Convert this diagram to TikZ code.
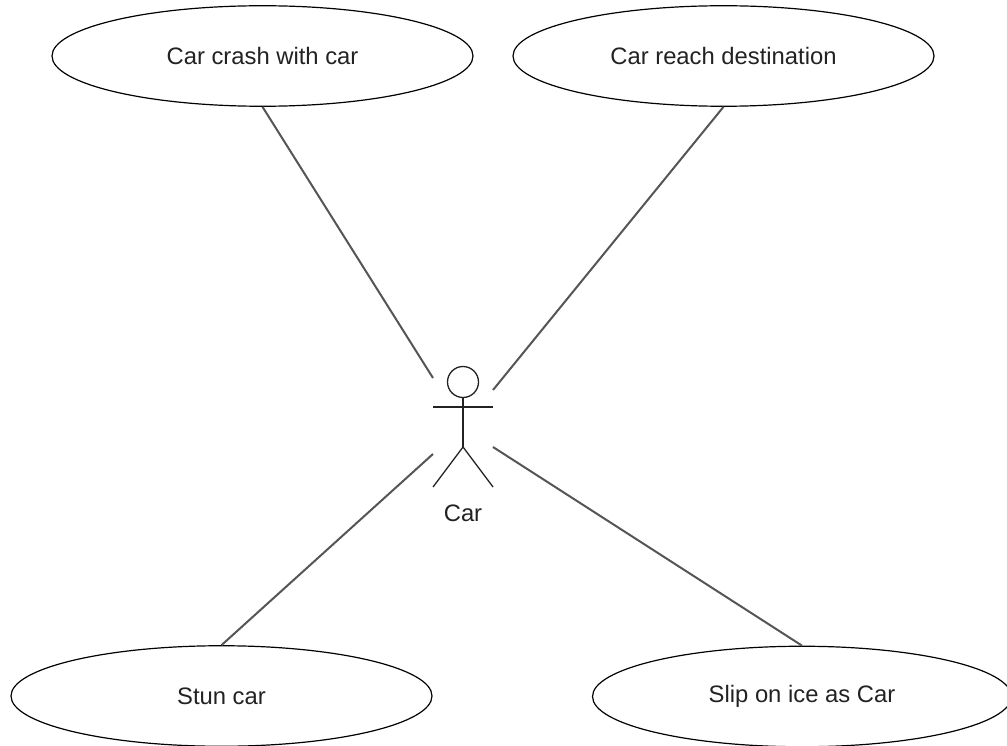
\documentclass[tikz,border=0pt]{standalone}
\usepackage{fontspec}
\setmainfont{Liberation Sans}
\usepackage{xcolor}
\usetikzlibrary{shapes.geometric}
\definecolor{linkgray}{HTML}{555555}
\definecolor{labelgray}{HTML}{222222}

\begin{document}
\begin{tikzpicture}[
    x=1pt, y=-1pt,
    every node/.style={
    align=center,
    text=labelgray,
    font=\fontsize{23.8}{28}\selectfont},
    usecase/.style={
    ellipse,
    draw,
    line width=1.2pt,
    minimum width=421pt,
    minimum height=100.5pt},
    link/.style={
    draw=linkgray,
    line width=2pt},
    actorline/.style={
    draw=labelgray,
    line width=1.3pt}]
    \useasboundingbox (0,0) rectangle (1007,746);
    \node[usecase] (crash) at (262.5,56) {Car crash with car};
    \node[usecase] (reach) at (723.5,56) {Car reach destination};
    \node[usecase] (stun) at (221.5,696) {Stun car};
    \node[usecase, minimum width=419pt] (slip) at (802,696.5) {Slip on ice as Car};
    % actor
    \node[circle, draw=labelgray, line width=1.3pt, minimum size=31pt, inner sep=0pt] (head) at (463,382) {};
    \coordinate (hip) at (463,447);
    \coordinate (armleft) at (433,407);
    \coordinate (armright) at (493,407);
    \coordinate (footleft) at (433,487);
    \coordinate (footright) at (493,487);
    \node (car) at (463,513) {Car};
    \draw[actorline] (head) -- (hip);
    \draw[actorline] (armleft) -- (armright);
    \draw[actorline] (footleft) -- (hip) -- (footright);
    % connectors
    \coordinate (linkul) at (433,378);
    \coordinate (linkur) at (493,390);
    \coordinate (linkll) at (433,454);
    \coordinate (linklr) at (493,447);
    \draw[link] (crash.south) -- (linkul);
    \draw[link] (reach.south) -- (linkur);
    \draw[link] (stun.north) -- (linkll);
    \draw[link] (slip.north) -- (linklr);
\end{tikzpicture}
\end{document}
